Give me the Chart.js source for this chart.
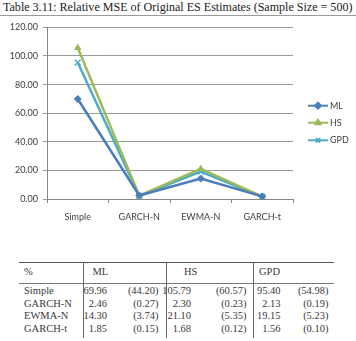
<!DOCTYPE html>
<html>
<head>
<meta charset="utf-8">
<script src="https://cdn.jsdelivr.net/npm/chart.js@4"></script>
<style>
  html,body{margin:0;padding:0;background:#fff;}
  body{width:356px;height:341px;position:relative;overflow:hidden;}
  #title{position:absolute;left:3px;top:0px;font-family:"Liberation Serif",serif;font-size:11.5px;color:#222;white-space:nowrap;line-height:14px;}
  #trule{position:absolute;left:0;top:15px;width:356px;height:1px;background:#9a9a9a;}
  #wrap{position:absolute;left:0;top:17px;width:356px;height:215px;}
  .t{position:absolute;font-family:"Liberation Serif",serif;font-size:10.5px;color:#3a3a3a;white-space:nowrap;line-height:12px;}
  .r{text-align:right;}
  .hl{position:absolute;background:#666;}
</style>
</head>
<body>
<div id="title">Table 3.11: Relative MSE of Original ES Estimates (Sample Size = 500)</div>
<div id="trule"></div>
<div id="wrap"><canvas id="c" width="356" height="215"></canvas></div>
<div id="table"></div>
<script>
const categories = ["Simple", "GARCH-N", "EWMA-N", "GARCH-t"];
const seriesNames = ["ML", "HS", "GPD"];
const mlValues = [69.96, 2.46, 14.30, 1.85];
const hsValues = [105.79, 2.30, 21.10, 1.68];
const gpdValues = [95.40, 2.13, 19.15, 1.56];
const mlSe = [44.20, 0.27, 3.74, 0.15];
const hsSe = [60.57, 0.23, 5.35, 0.12];
const gpdSe = [54.98, 0.19, 5.23, 0.10];
const yTicks = [0, 20, 40, 60, 80, 100, 120];

// fit title width
(function(){
  const t = document.getElementById('title');
  const w = t.getBoundingClientRect().width;
  const target = 350;
  t.style.fontSize = (11.5 * target / w) + 'px';
})();

const colors = ["#4A7EBB", "#9BBB59", "#4BACC6"];
const pstyles = ["rectRot", "triangle", "crossRot"];
const allValues = [mlValues, hsValues, gpdValues];

const legendPlugin = {
  id: 'customLegend',
  afterDraw(chart) {
    const ctx = chart.ctx;
    const ys = [88.7, 105.7, 123.3];
    ctx.save();
    chart.data.datasets.forEach((ds, i) => {
      const y = ys[i];
      ctx.strokeStyle = ds.borderColor;
      ctx.lineWidth = 2;
      ctx.beginPath(); ctx.moveTo(308, y); ctx.lineTo(328, y); ctx.stroke();
      ctx.fillStyle = ds.borderColor;
      ctx.strokeStyle = ds.borderColor;
      Chart.helpers.drawPoint(ctx, {pointStyle: ds.pointStyle, radius: 3, borderWidth: 1.2, rotation: 0}, 318, y);
      ctx.fillStyle = '#404040';
      ctx.font = '9px Lato';
      ctx.textBaseline = 'middle';
      ctx.textAlign = 'left';
      ctx.fillText(ds.label, 330, y);
    });
    ctx.restore();
  }
};

new Chart(document.getElementById('c'), {
  type: 'line',
  data: {
    labels: categories,
    datasets: seriesNames.map((n, i) => ({
      label: n,
      data: allValues[i],
      borderColor: colors[i],
      backgroundColor: colors[i],
      borderWidth: 2.5,
      pointStyle: pstyles[i],
      pointRadius: i === 2 ? 4 : 3.5,
      pointBorderWidth: i === 2 ? 1.5 : 1,
      tension: 0,
      fill: false
    }))
  },
  options: {
    responsive: false,
    animation: false,
    events: [],
    layout: { padding: { top: 9, right: 63, left: 0, bottom: 0 } },
    plugins: { legend: { display: false }, tooltip: { enabled: false } },
    scales: {
      x: {
        offset: true,
        grid: { display: true, drawOnChartArea: false, offset: true, color: '#868686', tickLength: 4 },
        border: { color: '#868686', width: 1 },
        ticks: { font: { family: 'Lato', size: 9 }, color: '#404040', padding: 9, maxRotation: 0 },
        afterFit(s) { s.height = 33; }
      },
      y: {
        min: 0, max: 120,
        afterBuildTicks(s) { s.ticks = yTicks.map(v => ({ value: v })); },
        grid: { color: '#9a9a9a', tickLength: 4 },
        border: { color: '#868686', width: 1 },
        ticks: { font: { family: 'Lato', size: 9 }, color: '#404040', padding: 5, callback: v => Number(v).toFixed(2) },
        afterFit(s) { s.width = 47; }
      }
    }
  },
  plugins: [legendPlugin]
});

// table
(function(){
  const tb = document.getElementById('table');
  function add(html){ tb.insertAdjacentHTML('beforeend', html); }
  function line(x, y, w, h, c){ add(`<div class="hl" style="left:${x}px;top:${y}px;width:${w}px;height:${h}px;background:${c}"></div>`); }
  function txtL(s, x, cy){ add(`<div class="t" style="left:${x}px;top:${cy-6}px">${s}</div>`); }
  function txtR(s, xr, cy){ add(`<div class="t r" style="left:${xr-60}px;width:60px;top:${cy-6}px">${s}</div>`); }
  line(19, 261.5, 315, 1.5, '#555');
  line(19, 283, 315, 1, '#777');
  [83, 166, 252.5].forEach(x => line(x, 262, 1, 76, '#666'));
  txtL('%', 24, 271.7);
  txtL(seriesNames[0], 92.5, 271.7);
  txtL(seriesNames[1], 184, 271.7);
  txtL(seriesNames[2], 259, 271.7);
  const rowsY = [291, 303.5, 316, 328.5];
  const vals = [mlValues, hsValues, gpdValues];
  const ses = [mlSe, hsSe, gpdSe];
  const valR = [107, 191, 280.5];
  const seR = [158.5, 246.5, 328.5];
  categories.forEach((c, r) => {
    txtL(c, 24, rowsY[r]);
    for (let k = 0; k < 3; k++) {
      txtR(vals[k][r].toFixed(2), valR[k], rowsY[r]);
      txtR('(' + ses[k][r].toFixed(2) + ')', seR[k], rowsY[r]);
    }
  });
})();
</script>
</body>
</html>
